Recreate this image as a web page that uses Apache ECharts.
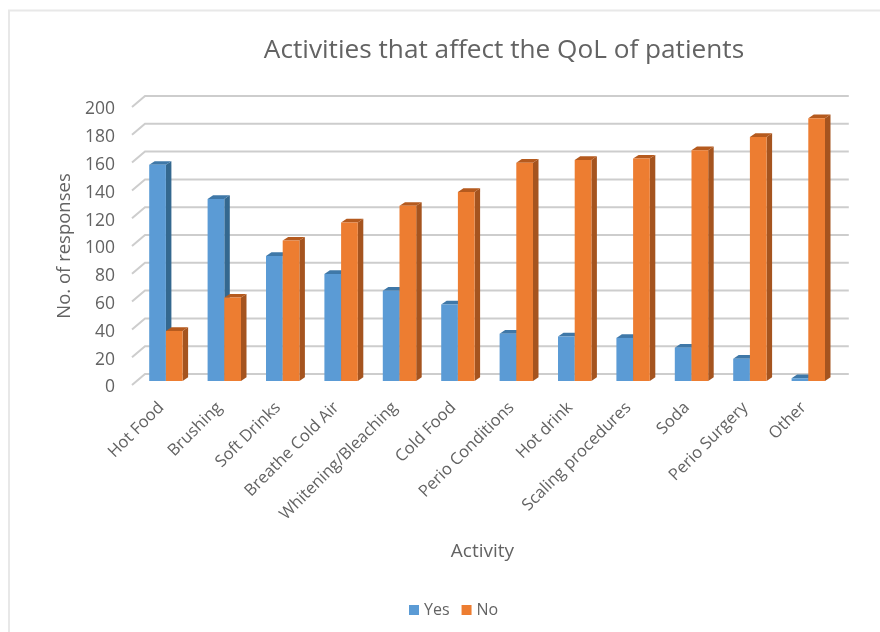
<!DOCTYPE html>
<html><head><meta charset="utf-8">
<style>html,body{margin:0;padding:0;background:#fff}#c{width:880px;height:632px}</style>
<script src="https://cdn.jsdelivr.net/npm/echarts@6/dist/echarts.min.js"></script></head>
<body><div id="c"></div>
<script>
const categories=["Hot Food","Brushing","Soft Drinks","Breathe Cold Air","Whitening/Bleaching","Cold Food","Perio Conditions","Hot drink","Scaling procedures","Soda","Perio Surgery","Other"];
const yesValues=[155.5,131,90,77,65,55,34,32,31,24,16,2];
const noValues=[36,60,101,114,126,136,157,159,160,166,175.5,189];
const yTicks=[0,20,40,60,80,100,120,140,160,180,200];
const FONT='"Open Sans"';
const TXT='#636363';
const chart=echarts.init(document.getElementById('c'),null,{renderer:'canvas'});
const barW=16.7, shiftX=4.7, shiftY=-4, depthX=5.5, depthY=-3.7;
function barRender(side,front,top,dark){
  return function(params,api){
    const base=api.coord([api.value(0),0]);
    const t=api.coord([api.value(0),api.value(1)]);
    const c=base[0]+shiftX;
    const x0=side<0?c-barW:c, x1=x0+barW;
    const yb=base[1]+shiftY, yt=t[1]+shiftY;
    return {type:'group',children:[
      {type:'polygon',shape:{points:[[x1,yb],[x1+depthX,yb+depthY],[x1+depthX,yt+depthY],[x1,yt]]},style:{fill:dark}},
      {type:'polygon',shape:{points:[[x0,yt],[x0+depthX,yt+depthY],[x1+depthX,yt+depthY],[x1,yt]]},style:{fill:top}},
      {type:'rect',shape:{x:x0,y:yt,width:barW,height:yb-yt},style:{fill:front}}
    ]};
  };
}
function gridRender(params,api){
  const p=api.coord([0,api.value(1)]);
  const cs=params.coordSys;
  const y=p[1];
  return {type:'polyline',silent:true,shape:{points:[[cs.x,y],[cs.x+13,y-11],[cs.x+cs.width+16,y-11]]},
    style:{stroke:'#cdcdcd',lineWidth:2,fill:null}};
}
chart.setOption({
  animation:false,
  backgroundColor:'#fff',
  graphic:[{type:'rect',silent:true,z:-10,shape:{x:9,y:10.5,width:900,height:640},style:{fill:'none',stroke:'#e8e8e8',lineWidth:2}}],
  title:{text:'Activities that affect the QoL of patients',left:499,top:33,textAlign:'center',
    textStyle:{fontFamily:FONT,fontSize:26.2,fontWeight:'normal',color:TXT}},
  legend:{data:['Yes','No'],left:404,top:597,icon:'rect',itemWidth:10,itemHeight:10,itemGap:12,
    textStyle:{fontFamily:FONT,fontSize:16,color:TXT}},
  grid:{left:132,width:700.8,top:107,height:278,containLabel:false},
  xAxis:{type:'category',data:categories,axisLine:{show:false},axisTick:{show:false},
    name:'Activity',nameLocation:'middle',nameGap:157,nameTextStyle:{fontFamily:FONT,fontSize:19,color:TXT},
    axisLabel:{rotate:45,interval:0,margin:20,fontFamily:FONT,fontSize:16.5,color:TXT}},
  yAxis:{type:'value',min:0,max:200,interval:20,axisLine:{show:false},axisTick:{show:false},splitLine:{show:false},
    name:'No. of responses',nameLocation:'middle',nameGap:54,nameTextStyle:{fontFamily:FONT,fontSize:18.5,color:TXT},
    axisLabel:{margin:17,verticalAlign:'top',lineHeight:5,fontFamily:FONT,fontSize:17.5,color:TXT}},
  series:[
    {type:'custom',name:'grid',silent:true,clip:false,z:1,data:yTicks.map(v=>[0,v]),renderItem:gridRender},
    {type:'custom',name:'Yes',clip:false,z:2,itemStyle:{color:'#5b9bd5'},data:yesValues.map((v,i)=>[i,v]),
      renderItem:barRender(-1,'#5b9bd5','#3f78a8','#34688f')},
    {type:'custom',name:'No',clip:false,z:3,itemStyle:{color:'#ed7d31'},data:noValues.map((v,i)=>[i,v]),
      renderItem:barRender(1,'#ed7d31','#b55a1e','#a5541f')}
  ]
});
</script></body></html>
